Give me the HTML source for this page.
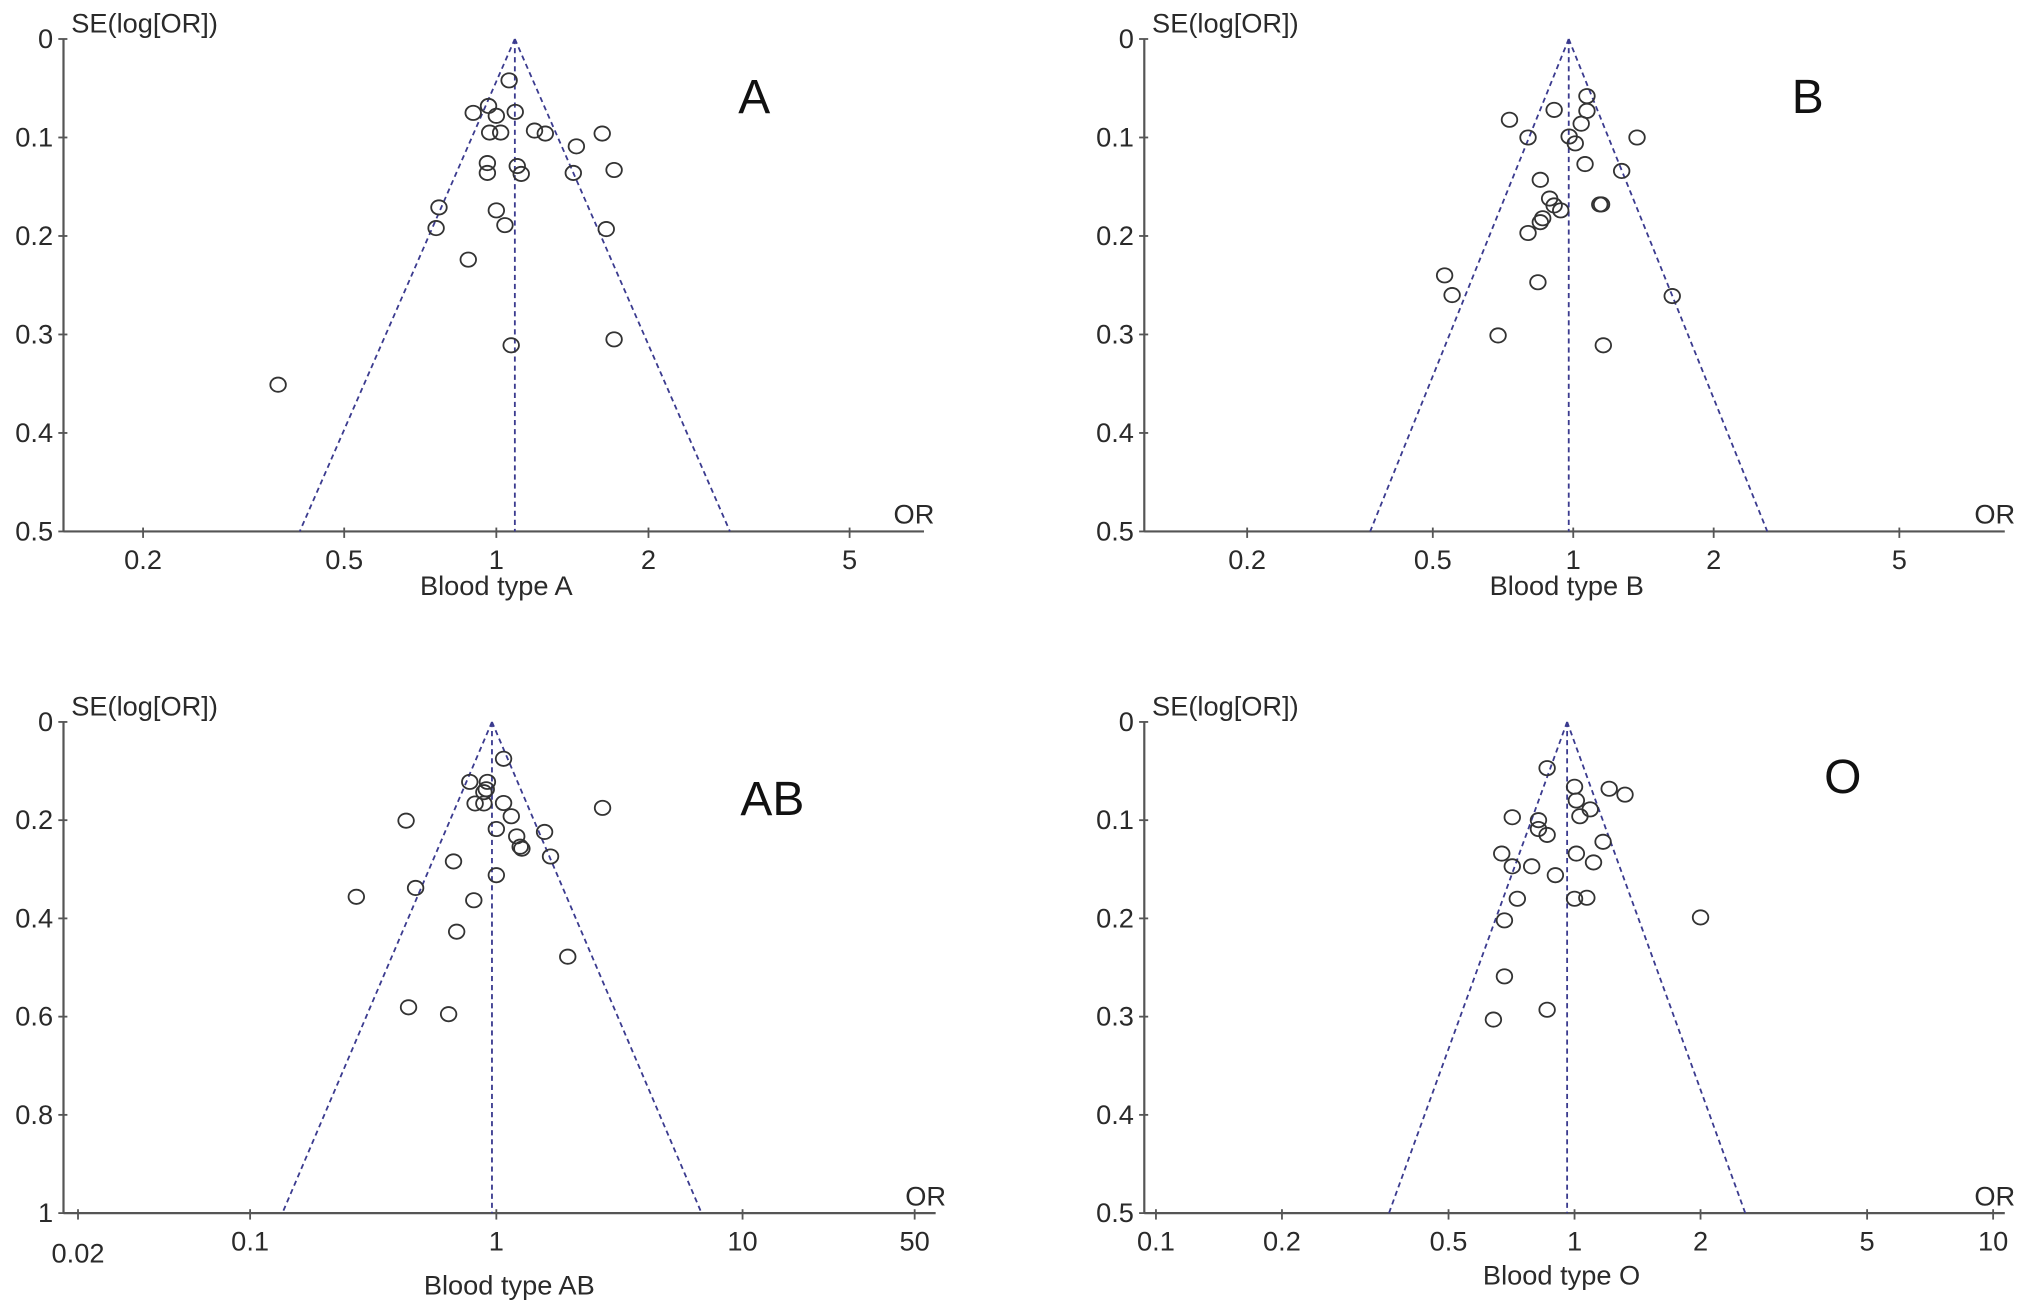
<!DOCTYPE html>
<html><head><meta charset="utf-8"><style>
html,body{margin:0;padding:0;background:#fff;}
svg{display:block;}
text{font-family:"Liberation Sans",Arial,sans-serif;fill:#2a2a2a;}
</style></head><body>
<svg id="fig" width="2032" height="1313" viewBox="0 0 1568 1013" xmlns="http://www.w3.org/2000/svg"></svg>
<script>
// Panel A data
const aOR=[1.06,0.90,0.965,1.0,1.09,0.97,1.02,1.19,1.25,1.62,1.44,0.96,0.96,1.10,1.12,1.42,1.71,0.77,0.76,1.0,1.04,1.65,0.88,1.07,1.71,0.37];
const aSE=[0.042,0.075,0.068,0.078,0.074,0.095,0.095,0.093,0.096,0.096,0.109,0.126,0.136,0.129,0.137,0.136,0.133,0.171,0.192,0.174,0.189,0.193,0.224,0.311,0.305,0.351];
const aCenter=1.088;
// Panel B data
const bOR=[1.07,0.91,1.07,0.73,1.04,0.80,0.98,1.01,1.37,1.06,1.27,0.85,0.89,0.91,0.94,1.15,1.14,0.86,0.85,0.80,0.53,0.55,0.84,1.63,0.69,1.16];
const bSE=[0.058,0.072,0.073,0.082,0.086,0.100,0.099,0.106,0.100,0.127,0.134,0.143,0.162,0.169,0.174,0.168,0.168,0.182,0.186,0.197,0.240,0.260,0.247,0.261,0.301,0.311];
const bCenter=0.978;
// Panel AB data
const abOR=[1.07,0.78,0.92,0.91,0.89,0.82,0.89,1.07,1.15,2.70,0.43,1.0,1.21,1.57,1.25,1.27,1.66,0.67,1.0,0.47,0.27,0.81,0.69,1.95,0.44,0.64];
const abSE=[0.075,0.122,0.122,0.137,0.143,0.166,0.166,0.165,0.192,0.175,0.201,0.218,0.233,0.224,0.254,0.258,0.274,0.284,0.312,0.338,0.356,0.363,0.427,0.478,0.581,0.595];
const abCenter=0.96;
// Panel O data
const oOR=[0.86,1.0,1.21,1.32,1.01,1.09,1.03,0.71,0.82,0.82,0.86,1.17,0.67,1.01,0.71,0.79,1.11,0.90,0.73,1.0,1.07,2.0,0.68,0.68,0.86,0.64];
const oSE=[0.047,0.066,0.068,0.074,0.080,0.089,0.096,0.097,0.100,0.109,0.115,0.122,0.134,0.134,0.147,0.147,0.143,0.156,0.180,0.180,0.179,0.199,0.202,0.259,0.293,0.303];
const oCenter=0.96;
// tick labels
const xTicksA=[0.2,0.5,1,2,5];
const xTicksB=[0.2,0.5,1,2,5];
const xTicksAB=[0.02,0.1,1,10,50];
const xTicksO=[0.1,0.2,0.5,1,2,5,10];
const yTicksHalf=[0,0.1,0.2,0.3,0.4,0.5];
const yTicksOne=[0,0.2,0.4,0.6,0.8,1];

const NS="http://www.w3.org/2000/svg";
const svg=document.getElementById('fig');
function mk(tag,attrs,parent,txt){const e=document.createElementNS(NS,tag);for(const k in attrs)e.setAttribute(k,attrs[k]);if(txt!==undefined)e.textContent=txt;parent.appendChild(e);return e;}

const panels=[
 {id:'a',or:aOR,se:aSE,c:aCenter,ax:49,yT:30,yB:410,xEnd:713,x1:383,dec:390,seMax:0.5,xt:xTicksA,yt:yTicksHalf,label:'Blood type A',lx:383,ly:459,letter:'A',gx:582,gy:87,gs:37},
 {id:'b',or:bOR,se:bSE,c:bCenter,ax:883,yT:30,yB:410,xEnd:1547,x1:1214,dec:360,seMax:0.5,xt:xTicksB,yt:yTicksHalf,label:'Blood type B',lx:1209,ly:459,letter:'B',gx:1395,gy:87,gs:37},
 {id:'ab',or:abOR,se:abSE,c:abCenter,ax:49,yT:557,yB:936,xEnd:722,x1:383,dec:190,seMax:1,xt:xTicksAB,yt:yTicksOne,label:'Blood type AB',lx:393,ly:999,letter:'AB',gx:596,gy:629,gs:37},
 {id:'o',or:oOR,se:oSE,c:oCenter,ax:883,yT:557,yB:936,xEnd:1547,x1:1215,dec:323,seMax:0.5,xt:xTicksO,yt:yTicksHalf,label:'Blood type O',lx:1205,ly:991,letter:'O',gx:1422,gy:612,gs:37}
];

panels.forEach(p=>{
 const g=mk('g',{},svg);
 
 
 const X=v=>p.x1+p.dec*Math.log10(v);
 const Y=s=>p.yT+(p.yB-p.yT)*s/p.seMax;
 const ya=mk('line',{x1:p.ax,y1:p.yT,x2:p.ax,y2:p.yB,stroke:'#555','stroke-width':1.7},g);
 
 
 const xa=mk('line',{x1:p.ax,y1:p.yB,x2:p.xEnd,y2:p.yB,stroke:'#555','stroke-width':1.7},g);
 
 
 p.yt.forEach(t=>{
  mk('line',{x1:p.ax-4,y1:Y(t),x2:p.ax+3,y2:Y(t),stroke:'#555','stroke-width':1.4},g);
  const tl=mk('text',{x:p.ax-8,y:Y(t)+7,'font-size':21,'text-anchor':'end'},g,String(t));
  
  
 });
 p.xt.forEach(t=>{
  const x=X(t);
  mk('line',{x1:x,y1:p.yB-3,x2:x,y2:p.yB+5,stroke:'#555','stroke-width':1.4},g);
  const low=(p.id==='ab'&&t===0.02)?9:0;
  const tl=mk('text',{x:x,y:p.yB+29+low,'font-size':21,'text-anchor':'middle'},g,String(t));
  
  
 });
 const yl=mk('text',{x:p.ax+6,y:p.yT-5,'font-size':21},g,'SE(log[OR])');
 
 
 const orl=mk('text',{x:p.xEnd+8,y:p.yB-6,'font-size':21,'text-anchor':'end'},g,'OR');
 
 
 const xl=mk('text',{x:p.lx,y:p.ly,'font-size':21,'text-anchor':'middle'},g,p.label);
 
 
 const lt=mk('text',{x:p.gx,y:p.gy,'font-size':p.gs,'text-anchor':'middle',style:'fill:#111'},g,p.letter);
 
 
 const cx=X(p.c);
 const lo=X(p.c*Math.exp(-1.96*p.seMax)), hi=X(p.c*Math.exp(1.96*p.seMax));
 const dash={stroke:'#3b3b8f','stroke-width':1.4,'stroke-dasharray':'4 3',fill:'none'};
 const cl=mk('line',Object.assign({x1:cx,y1:p.yT,x2:cx,y2:p.yB},dash),g);
 
 
 const fl=mk('line',Object.assign({x1:cx,y1:p.yT,x2:lo,y2:p.yB},dash),g);
 
 
 const fr=mk('line',Object.assign({x1:cx,y1:p.yT,x2:hi,y2:p.yB},dash),g);
 
 
 p.or.forEach((v,i)=>{
  const c=mk('ellipse',{cx:X(v),cy:Y(p.se[i]),rx:6,ry:5.5,fill:'none',stroke:'#333','stroke-width':1.4},g);
  
  
 });
});
</script>
</body></html>
